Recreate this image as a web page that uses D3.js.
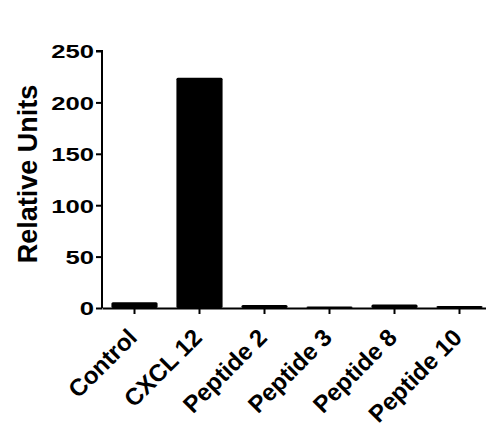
<!DOCTYPE html>
<html>
<head>
<meta charset="utf-8">
<script src="https://cdn.jsdelivr.net/npm/d3@7"></script>
<style>
  body { margin: 0; background: #fff; }
  text { font-family: "Liberation Sans", Arial, sans-serif; font-weight: bold; }
</style>
</head>
<body>
<script>
// Groups and their values
var groups = ["Control", "CXCL 12", "Peptide 2", "Peptide 3", "Peptide 8", "Peptide 10"]
var values = [5.5, 224, 3, 1.5, 3.5, 2]
var yTicks = [0, 50, 100, 150, 200, 250]

var svgW = 486
var svgH = 441
var axisLeft = 102
var axisRight = 492
var axisBottom = 308
var axisTop = 51

var svg = d3.select("body")
            .append("svg")
            .attr("width", svgW)
            .attr("height", svgH)

// Scales
var xScale = d3.scaleBand()
               .domain(groups)
               .range([axisLeft, axisRight])
               .paddingInner(0.29)
               .paddingOuter(0.145)

var yScale = d3.scaleLinear()
               .domain([0, 250])
               .range([axisBottom, axisTop])

// Bars
svg.selectAll("rect.bar")
   .data(groups)
   .enter()
   .append("rect")
     .attr("class", "bar")
     .attr("x", function(d) { return xScale(d) })
     .attr("y", function(d, i) { return yScale(values[i]) })
     .attr("width", xScale.bandwidth())
     .attr("height", function(d, i) { return axisBottom - yScale(values[i]) })
     .attr("rx", 1.5)
     .style("fill", "#000")

// y axis
var yAxis = d3.axisLeft(yScale).tickValues(yTicks).tickSize(6)
var gy = svg.append("g")
            .attr("transform", "translate(" + axisLeft + ",0)")
            .call(yAxis)
gy.select(".domain").attr("stroke-width", 2).attr("d", "M-0," + axisBottom + "V" + axisTop + "H-6")
gy.selectAll(".tick line").attr("stroke-width", 2)
// tick numbers in the picture are wide, so stretch them a little
gy.selectAll(".tick text")
  .style("font-size", "19px")
  .attr("fill", "#000")
  .attr("x", 0)
  .attr("dy", "0.36em")
  .attr("transform", "translate(-8,0) scale(1.35,1)")

// x axis
var xAxis = d3.axisBottom(xScale).tickSize(6).tickSizeOuter(0)
var gx = svg.append("g")
            .attr("transform", "translate(0," + axisBottom + ")")
            .call(xAxis)
gx.select(".domain").attr("stroke-width", 2)
gx.selectAll(".tick line").attr("stroke-width", 2)
gx.selectAll(".tick text")
  .style("font-size", "24px")
  .attr("fill", "#000")
  .attr("text-anchor", "end")
  .attr("dy", null)
  .attr("y", 0)
  .attr("transform", "translate(4,31) rotate(-45)")

// y title
svg.append("text")
   .attr("transform", "translate(37,174) rotate(-90)")
   .style("text-anchor", "middle")
   .style("font-size", "27px")
   .attr("fill", "#000")
   .text("Relative Units")
</script>
</body>
</html>
